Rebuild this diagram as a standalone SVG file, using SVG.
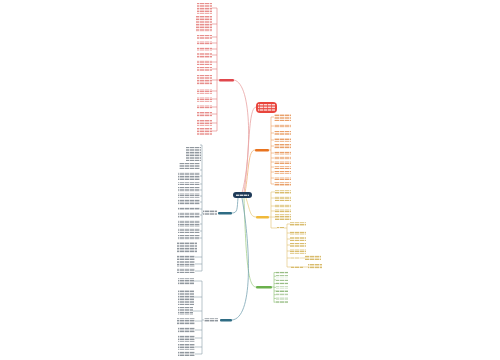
<svg xmlns="http://www.w3.org/2000/svg" width="500" height="360" viewBox="0 0 500 360">
<defs>
<pattern id="pr" width="5" height="1.6" patternUnits="userSpaceOnUse"><rect width="4.4" height="0.8" fill="#d9534f" opacity="0.75"/></pattern>
<pattern id="po" width="5" height="1.6" patternUnits="userSpaceOnUse"><rect width="4.4" height="0.8" fill="#e0782a" opacity="0.8"/></pattern>
<pattern id="py" width="5" height="1.6" patternUnits="userSpaceOnUse"><rect width="4.4" height="0.8" fill="#c9a030" opacity="0.8"/></pattern>
<pattern id="pg" width="5" height="1.6" patternUnits="userSpaceOnUse"><rect width="4.4" height="0.8" fill="#6aa050" opacity="0.8"/></pattern>
<pattern id="pb" width="5" height="1.6" patternUnits="userSpaceOnUse"><rect width="4.4" height="0.8" fill="#55606a" opacity="0.75"/></pattern>
<pattern id="pw" width="4" height="1.6" patternUnits="userSpaceOnUse"><rect width="3.4" height="0.8" fill="#ffffff" opacity="0.9"/></pattern>
</defs>
<style>
.cr{fill:none;stroke:#e9a3a3;stroke-width:0.8}
.co{fill:none;stroke:#f0b27a;stroke-width:0.8}
.cy{fill:none;stroke:#ead08a;stroke-width:0.8}
.cg{fill:none;stroke:#a6d18f;stroke-width:0.8}
.cb{fill:none;stroke:#7aa4b4;stroke-width:0.8}
.br{stroke:#e07a7a;stroke-width:0.6}
.bo{stroke:#eda060;stroke-width:0.6}
.by{stroke:#e0c070;stroke-width:0.6}
.bg{stroke:#8cc070;stroke-width:0.6}
.bb{stroke:#8aa0aa;stroke-width:0.6}
.lr{fill:url(#pr)}.lo{fill:url(#po)}.ly{fill:url(#py)}.lg{fill:url(#pg)}.lb{fill:url(#pb)}
</style>
<rect width="500" height="360" fill="#ffffff"/>

<g id="connectors">
<path class="cr" d="M242,193 C251,160 253,84 234,80"/>
<path class="cr" d="M244,193 C250,150 248,108 256,107"/>
<path class="co" d="M245,193 C249,170 248,150 255,150"/>
<path class="cy" d="M246,198 C250,210 250,217 256,217"/>
<path class="cg" d="M244,198 C246,260 248,287 256,287"/>
<path class="cb" d="M238,198 C237,208 238,213 232,213"/>
<path class="cb" d="M242,198 C251,250 253,318 232,320"/>
</g>

<g id="center">
<rect x="233" y="192" width="19" height="6" rx="3" fill="#1e3a58"/>
<rect x="236" y="194" width="13" height="2" fill="url(#pw)"/>
</g>

<g id="red-node">
<rect x="219" y="79" width="15" height="2.5" rx="1" fill="#e0474c"/>
<path class="br" d="M219,80 H217 M217,8 V131"/>
<g class="br">
<path d="M212,8H217M212,24H217M212,37H217M212,43H217M212,49H217M212,55H217M212,62H217M212,69H217M212,80H217M212,91H217M212,99H217M212,107H217M212,114H217M212,123H217M212,131H217"/>
</g>
<rect class="lr" x="197" y="3" width="15" height="11"/>
<rect class="lr" x="196" y="16" width="16" height="16"/>
<rect class="lr" x="197" y="35" width="15" height="4"/>
<rect class="lr" x="197" y="41" width="15" height="4"/>
<rect class="lr" x="197" y="47" width="15" height="4"/>
<rect class="lr" x="197" y="53" width="15" height="5"/>
<rect class="lr" x="197" y="60" width="15" height="5"/>
<rect class="lr" x="197" y="67" width="15" height="4"/>
<rect class="lr" x="197" y="75" width="15" height="10"/>
<rect class="lr" x="197" y="89" width="15" height="5"/>
<rect class="lr" x="197" y="97" width="15" height="5"/>
<rect class="lr" x="197" y="105" width="15" height="4"/>
<rect class="lr" x="197" y="112" width="15" height="5"/>
<rect class="lr" x="197" y="120" width="15" height="6"/>
<rect class="lr" x="197" y="128" width="15" height="7"/>
</g>

<g id="red-bubble">
<rect x="256" y="102" width="21" height="11" rx="4" fill="#e8453c"/>
<rect x="258" y="104" width="17" height="7" fill="url(#pw)"/>
</g>

<g id="orange-node">
<rect x="255" y="149" width="14" height="2.5" rx="1" fill="#e8731f"/>
<path class="bo" d="M269,150H271M271,117V184"/>
<path class="bo" d="M271,117H274M271,126H274M271,133H274M271,140H274M271,146H274M271,153H274M271,158H274M271,162H274M271,167H274M271,172H274M271,178H274M271,184H274"/>
<rect class="lo" x="274" y="114" width="17" height="7"/>
<rect class="lo" x="274" y="124" width="17" height="4"/>
<rect class="lo" x="274" y="131" width="17" height="4"/>
<rect class="lo" x="274" y="138" width="17" height="4"/>
<rect class="lo" x="274" y="144" width="17" height="5"/>
<rect class="lo" x="274" y="151" width="17" height="4"/>
<rect class="lo" x="274" y="156" width="17" height="4"/>
<rect class="lo" x="274" y="161" width="17" height="3"/>
<rect class="lo" x="274" y="166" width="17" height="3"/>
<rect class="lo" x="274" y="171" width="17" height="3"/>
<rect class="lo" x="274" y="177" width="17" height="3"/>
<rect class="lo" x="274" y="182" width="17" height="4"/>
</g>

<g id="yellow-node">
<rect x="256" y="216" width="13" height="2.5" rx="1" fill="#f0b93a"/>
<path class="by" d="M269,217H271M271,192V228M271,192H275M271,198H275M271,206H275M271,211H275M271,217H275M271,228H277"/>
<rect class="ly" x="275" y="190" width="16" height="4"/>
<rect class="ly" x="275" y="196" width="16" height="5"/>
<rect class="ly" x="275" y="204" width="16" height="4"/>
<rect class="ly" x="275" y="209" width="16" height="4"/>
<rect class="ly" x="275" y="214" width="16" height="6"/>
<rect class="ly" x="277" y="227" width="7" height="2"/>
<path class="by" d="M284,228H287M287,224V267M287,224H290M287,233H290M287,239H290M287,245H290M287,251H290M287,258H291M287,267H291"/>
<rect class="ly" x="290" y="222" width="16" height="4"/>
<rect class="ly" x="290" y="231" width="16" height="4"/>
<rect class="ly" x="290" y="237" width="16" height="4"/>
<rect class="ly" x="290" y="243" width="16" height="4"/>
<rect class="ly" x="290" y="249" width="16" height="5"/>
<rect class="ly" x="291" y="257" width="9" height="2"/>
<path class="by" d="M300,258H305M303,267H308"/>
<rect class="ly" x="305" y="255" width="16" height="5"/>
<rect class="ly" x="291" y="266" width="12" height="2"/>
<rect class="ly" x="308" y="264" width="14" height="5"/>
</g>

<g id="green-node">
<rect x="256" y="286" width="16" height="2.5" rx="1" fill="#6ab04c"/>
<path class="bg" d="M272,287H274M274,272.5V302.5"/>
<path class="bg" d="M274,272.5H276M274,276.2H276M274,279.9H276M274,283.6H276M274,287.3H276M274,291H276M274,294.7H276M274,298.4H276M274,302.1H276"/>
<rect class="lg" x="276" y="271.5" width="12" height="2"/>
<rect class="lg" x="276" y="275.2" width="12" height="2"/>
<rect class="lg" x="276" y="278.9" width="12" height="2"/>
<rect class="lg" x="276" y="282.6" width="12" height="2"/>
<rect class="lg" x="276" y="286.3" width="12" height="2"/>
<rect class="lg" x="276" y="290" width="12" height="2"/>
<rect class="lg" x="276" y="293.7" width="12" height="2"/>
<rect class="lg" x="276" y="297.4" width="12" height="2"/>
<rect class="lg" x="276" y="301.1" width="12" height="2"/>
</g>

<g id="teal-node-1">
<rect x="218" y="212" width="14" height="2.5" rx="1" fill="#2f6c84"/>
<rect class="lb" x="203" y="210" width="14" height="5"/>
<path class="bb" d="M203,213H202M202,145V271"/>
<path class="bb" d="M200,145H202M200,170H202M200,176H202M200,184H202M200,190H202M200,196H202M200,202H202M200,209H202M200,215H202M200,224H202M200,231H202M200,238H202M195,257H202M195,264H202M195,271H202"/>
<rect class="lb" x="186" y="147" width="15" height="14"/>
<rect class="lb" x="179" y="163" width="21" height="6"/>
<rect class="lb" x="178" y="172" width="22" height="8"/>
<rect class="lb" x="178" y="182" width="22" height="3"/>
<rect class="lb" x="178" y="187" width="22" height="5"/>
<rect class="lb" x="178" y="193" width="22" height="5"/>
<rect class="lb" x="178" y="199" width="22" height="6"/>
<rect class="lb" x="178" y="207" width="22" height="3"/>
<rect class="lb" x="178" y="212" width="22" height="6"/>
<rect class="lb" x="178" y="220" width="22" height="7"/>
<rect class="lb" x="178" y="228" width="22" height="5"/>
<rect class="lb" x="178" y="235" width="22" height="5"/>
<rect class="lb" x="177" y="242" width="20" height="11"/>
<rect class="lb" x="177" y="255" width="18" height="5"/>
<rect class="lb" x="177" y="261" width="18" height="6"/>
<rect class="lb" x="177" y="268" width="18" height="5"/>
</g>

<g id="teal-node-2">
<rect x="220" y="319" width="12" height="2.5" rx="1" fill="#2f6c84"/>
<rect class="lb" x="204" y="318" width="14" height="4"/>
<path class="bb" d="M204,320H202M202,281V354"/>
<path class="bb" d="M194,281H202M194,297H202M193,311H202M195,321H202M195,330H202M195,338H202M195,347H202M195,354H202"/>
<rect class="lb" x="178" y="278" width="16" height="7"/>
<rect class="lb" x="178" y="290" width="16" height="15"/>
<rect class="lb" x="178" y="307" width="15" height="8"/>
<rect class="lb" x="177" y="318" width="18" height="7"/>
<rect class="lb" x="178" y="327" width="17" height="6"/>
<rect class="lb" x="178" y="335" width="17" height="7"/>
<rect class="lb" x="178" y="344" width="17" height="6"/>
<rect class="lb" x="178" y="351" width="17" height="5"/>
</g>
</svg>
